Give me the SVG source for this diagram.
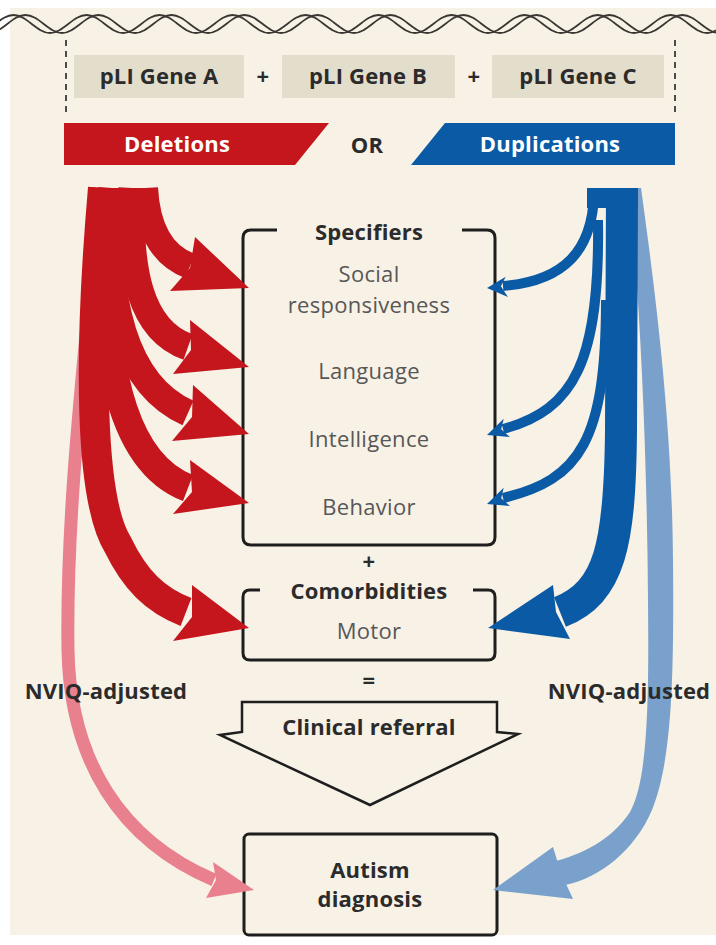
<svg xmlns="http://www.w3.org/2000/svg" xmlns:xlink="http://www.w3.org/1999/xlink" width="716" height="945" viewBox="0 0 716 945">
<defs>
<style>
.b{font-family:"Open Sans","Noto Sans","DejaVu Sans",sans-serif;font-weight:700;fill:#2b2b2b;font-size:22px;letter-spacing:0.2px;text-anchor:middle}
.w{font-family:"Open Sans","Noto Sans","DejaVu Sans",sans-serif;font-weight:700;fill:#ffffff;font-size:22px;letter-spacing:0.2px;text-anchor:middle}
.g{font-family:"Open Sans","Noto Sans","DejaVu Sans",sans-serif;font-weight:400;fill:#575757;font-size:22px;letter-spacing:0.3px;text-anchor:middle}
.box{fill:none;stroke:#1e1e1e;stroke-width:3;stroke-linejoin:round}
.gene{fill:#e3ddcc}
.red{fill:none;stroke:#c5161d}
.redf{fill:#c5161d}
.blue{fill:none;stroke:#0b5aa5}
.bluef{fill:#0b5aa5}
.dash{stroke:#222;stroke-width:1.6;stroke-dasharray:6 5}
.strand{fill:none;stroke:#3a3632;stroke-width:1.8}
</style>
<path id="strand" class="strand" d="M-23,33 C-9.7,33 0.2,15 13.5,15 S36.7,33 50,33 S73.2,15 86.5,15 S109.7,33 123,33 S146.2,15 159.5,15 S182.7,33 196,33 S219.2,15 232.5,15 S255.7,33 269,33 S292.2,15 305.5,15 S328.7,33 342,33 S365.2,15 378.5,15 S401.7,33 415,33 S438.2,15 451.5,15 S474.7,33 488,33 S511.2,15 524.5,15 S547.7,33 561,33 S584.2,15 597.5,15 S620.7,33 634,33 S657.2,15 670.5,15 S693.7,33 707,33 S730.2,15 743.5,15"/>
</defs>
<rect x="0" y="0" width="716" height="945" fill="#ffffff"/>
<rect x="10" y="8" width="706" height="927" fill="#f7f1e6"/>

<g id="helix">
<use href="#strand"/>
<use href="#strand" transform="translate(12,0)"/>
</g>
<line class="dash" x1="66" y1="40" x2="66" y2="116"/>
<line class="dash" x1="675" y1="40" x2="675" y2="116"/>

<g id="geneA"><rect class="gene" x="74" y="55" width="170" height="43"/><text class="b" x="159" y="84">pLI Gene A</text></g>
<text class="b" x="263" y="84">+</text>
<g id="geneB"><rect class="gene" x="282" y="55" width="173" height="43"/><text class="b" x="368" y="84">pLI Gene B</text></g>
<text class="b" x="474" y="84">+</text>
<g id="geneC"><rect class="gene" x="492" y="55" width="172" height="43"/><text class="b" x="578" y="84">pLI Gene C</text></g>

<g id="deletions"><polygon points="64,123 329,123 295,165 64,165" fill="#c5161d"/><text class="w" x="177" y="152">Deletions</text></g>
<text class="b" x="367" y="153">OR</text>
<g id="duplications"><polygon points="445,123 675,123 675,165 411,165" fill="#0b5aa5"/><text class="w" x="550" y="152">Duplications</text></g>

<g id="specifiers">
<path class="box" d="M277,230 L251,230 Q243,230 243,238 L243,537 Q243,545 251,545 L487,545 Q495,545 495,537 L495,238 Q495,230 487,230 L462,230"/>
<text class="b" x="369" y="240">Specifiers</text>
<text class="g" x="369" y="282">Social</text>
<text class="g" x="369" y="313">responsiveness</text>
<text class="g" x="369" y="379">Language</text>
<text class="g" x="369" y="447">Intelligence</text>
<text class="g" x="369" y="515">Behavior</text>
</g>
<text class="b" x="369" y="569">+</text>
<g id="comorbidities">
<path class="box" d="M260,590 L250,590 Q243,590 243,597 L243,653 Q243,660 250,660 L488,660 Q495,660 495,653 L495,597 Q495,590 488,590 L473,590"/>
<text class="b" x="369" y="599">Comorbidities</text>
<text class="g" x="369" y="639">Motor</text>
</g>
<text class="b" x="369" y="688">=</text>
<g id="clinical">
<path d="M242,702 L497,702 L497,732 L518,734 L370,805 L220,735 L242,732 Z" fill="none" stroke="#1e1e1e" stroke-width="2.5" stroke-linejoin="miter"/>
<text class="b" x="369" y="735">Clinical referral</text>
</g>
<g id="autism">
<rect class="box" x="244" y="834" width="253" height="101" rx="5"/>
<text class="b" x="370" y="878">Autism</text>
<text class="b" x="370" y="907">diagnosis</text>
</g>

<g id="connectors">
<!-- light blue NVIQ arrow -->
<path d="M641,188 C 655,290 672,420 673,560 C 674,680 672,760 652,810 C 635,850 600,878 565,885 L556,861 C 590,852 615,835 630,812 C 648,780 649,700 648,600 C 647,450 640,300 629,188 Z" fill="#7aa1cb"/>
<polygon points="553,847 493,890 573,899 561,873" fill="#7aa1cb"/>
<!-- pink NVIQ arrow -->
<path d="M96,230 C 82,380 66,520 68,650 C 70,760 120,840 214,880" fill="none" stroke="#e8808e" stroke-width="13"/>
<polygon points="213,862 254,890 206,898 216,880" fill="#e8808e"/>

<!-- red arrows -->
<path class="red" stroke-width="30" d="M103,188 C 88,360 90,500 118,545 C 135,580 155,600 186,612"/>
<path class="red" stroke-width="28" d="M106,188 C 98,340 115,460 188,488"/>
<path class="red" stroke-width="27" d="M112,188 C 103,300 125,385 188,413"/>
<path class="red" stroke-width="27" d="M132,188 C 128,270 140,330 188,347"/>
<path class="red" stroke-width="26" d="M145,188 C 147,225 160,255 190,266"/>
<rect x="88" y="188" width="70" height="20" class="redf"/>
<polygon class="redf" points="195,237 249,288 170,291 190,268"/>
<polygon class="redf" points="190,320 249,367 173,374 191,350"/>
<polygon class="redf" points="193,385 249,434 172,441 192,417"/>
<polygon class="redf" points="190,460 249,503 173,514 192,492"/>
<polygon class="redf" points="192,585 249,628 173,641 192,617"/>

<!-- blue arrows -->
<path class="blue" stroke-width="32" d="M622,188 L621,430 C 620,545 610,592 560,612"/>
<rect x="587" y="188" width="51" height="20" class="bluef"/>
<path class="blue" stroke-width="10" d="M594,195 C 592,250 565,281 503,286"/>
<path class="blue" stroke-width="10" d="M598,220 C 600,360 575,410 503,429"/>
<path class="blue" stroke-width="10" d="M606,300 C 606,440 580,480 503,498"/>
<polygon class="bluef" points="487,288 505.7,276.7 500.9,286.3 507.9,297"/>
<polygon class="bluef" points="487,435 503.7,418.7 501.2,429.2 509.9,437"/>
<polygon class="bluef" points="487,504 503.7,487.7 501.2,498.2 509.9,506"/>
<polygon class="bluef" points="553,585 488,628 570,639 556,612"/>
</g>

<text class="b" x="106" y="699">NVIQ-adjusted</text>
<text class="b" x="629" y="699">NVIQ-adjusted</text>
</svg>
